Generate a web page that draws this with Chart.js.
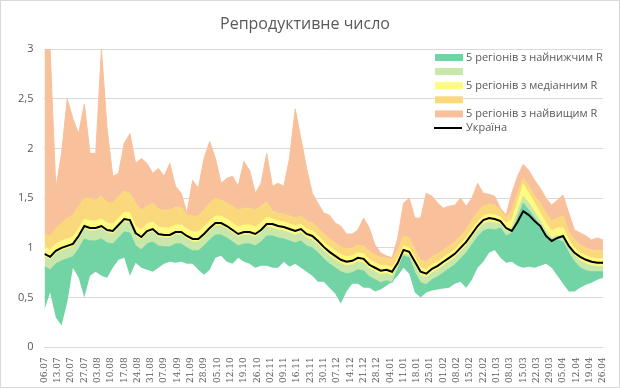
<!DOCTYPE html>
<html>
<head>
<meta charset="utf-8">
<script src="https://cdn.jsdelivr.net/npm/chart.js"></script>
<style>
  body { margin: 0; background: #fff; }
  #wrap { width: 618px; height: 386px; border: 1px solid #d9d9d9; }
</style>
</head>
<body>
<div id="wrap"><canvas id="rChart" width="618" height="386"></canvas></div>
<script>
// weekly tick labels (06.07.2020 - 26.04.2021)
const weekLabels = ['06.07','13.07','20.07','27.07','03.08','10.08','17.08','24.08','31.08','07.09','14.09',
  '21.09','28.09','05.10','12.10','19.10','26.10','02.11','09.11','16.11','23.11','30.11','07.12','14.12',
  '21.12','28.12','04.01','11.01','18.01','25.01','01.02','08.02','15.02','22.02','01.03','08.03','15.03',
  '22.03','29.03','05.04','12.04','19.04','26.04'];

// one reading every 3 days, day 0 = 06.07
const days = Array.from({ length: 99 }, (_, i) => i * 3);

const ukraine = [0.94,0.91,0.97,1.0,1.02,1.04,1.12,1.22,1.2,1.2,
  1.22,1.18,1.17,1.23,1.29,1.28,1.15,1.11,1.17,1.19,
  1.14,1.13,1.13,1.16,1.16,1.12,1.09,1.09,1.14,1.2,
  1.25,1.25,1.22,1.18,1.14,1.16,1.16,1.14,1.18,1.24,
  1.24,1.22,1.21,1.19,1.17,1.19,1.14,1.12,1.07,1.01,
  0.96,0.92,0.88,0.86,0.87,0.9,0.89,0.83,0.8,0.77,
  0.78,0.76,0.85,0.98,0.96,0.86,0.76,0.74,0.79,0.82,
  0.86,0.9,0.94,1.0,1.06,1.14,1.22,1.28,1.3,1.29,
  1.27,1.2,1.17,1.26,1.37,1.33,1.27,1.22,1.12,1.07,
  1.1,1.12,1.02,0.95,0.91,0.88,0.86,0.85,0.85];

const low = [0.38,0.55,0.3,0.22,0.45,0.8,0.7,0.5,0.72,0.76,
  0.72,0.7,0.8,0.88,0.9,0.72,0.85,0.8,0.78,0.76,
  0.8,0.84,0.86,0.85,0.86,0.84,0.84,0.78,0.73,0.78,
  0.9,0.92,0.86,0.84,0.9,0.86,0.84,0.8,0.82,0.82,
  0.8,0.8,0.86,0.81,0.84,0.8,0.76,0.72,0.66,0.66,
  0.6,0.54,0.44,0.56,0.64,0.64,0.6,0.6,0.56,0.58,
  0.62,0.66,0.72,0.8,0.74,0.55,0.5,0.55,0.57,0.58,
  0.59,0.6,0.64,0.66,0.6,0.68,0.8,0.86,0.95,0.98,
  0.9,0.85,0.86,0.82,0.8,0.81,0.8,0.82,0.84,0.8,
  0.72,0.64,0.56,0.56,0.6,0.63,0.65,0.68,0.7];

const greenTop = [0.81,0.78,0.84,0.87,0.89,0.91,0.99,1.09,1.07,1.07,
  1.09,1.05,1.04,1.1,1.16,1.15,1.02,0.98,1.04,1.06,
  1.02,1.01,1.01,1.04,1.04,1.0,0.97,0.97,1.02,1.08,
  1.13,1.13,1.1,1.06,1.02,1.04,1.04,1.02,1.06,1.12,
  1.12,1.1,1.09,1.07,1.05,1.07,1.02,1.0,0.95,0.89,
  0.84,0.8,0.76,0.74,0.75,0.78,0.77,0.71,0.68,0.65,
  0.67,0.65,0.79,0.92,0.9,0.75,0.65,0.63,0.68,0.71,
  0.75,0.79,0.83,0.89,0.95,1.03,1.11,1.17,1.19,1.18,
  1.2,1.12,1.15,1.3,1.45,1.38,1.3,1.22,1.12,1.06,
  1.08,1.06,0.95,0.86,0.8,0.77,0.76,0.76,0.76];

const lightTop = [0.91,0.88,0.94,0.97,0.99,1.01,1.09,1.19,1.17,1.17,
  1.19,1.15,1.14,1.2,1.26,1.25,1.12,1.08,1.14,1.16,
  1.11,1.1,1.1,1.13,1.13,1.09,1.06,1.06,1.11,1.17,
  1.22,1.22,1.19,1.15,1.11,1.13,1.13,1.11,1.15,1.21,
  1.2,1.18,1.17,1.15,1.13,1.15,1.1,1.08,1.03,0.97,
  0.92,0.88,0.84,0.82,0.83,0.86,0.85,0.79,0.76,0.73,
  0.74,0.72,0.81,0.94,0.92,0.82,0.72,0.7,0.75,0.78,
  0.82,0.86,0.9,0.96,1.02,1.1,1.18,1.24,1.26,1.25,
  1.24,1.17,1.2,1.36,1.52,1.45,1.36,1.27,1.17,1.1,
  1.12,1.1,1.0,0.92,0.87,0.84,0.82,0.81,0.81];

const yellowTop = [1.01,0.98,1.04,1.07,1.09,1.11,1.19,1.29,1.27,1.27,
  1.29,1.25,1.24,1.3,1.36,1.35,1.22,1.18,1.24,1.26,
  1.21,1.2,1.2,1.23,1.23,1.19,1.16,1.16,1.21,1.27,
  1.32,1.32,1.29,1.25,1.21,1.23,1.23,1.21,1.25,1.31,
  1.29,1.27,1.26,1.24,1.22,1.24,1.19,1.17,1.12,1.06,
  1.01,0.97,0.93,0.91,0.92,0.95,0.94,0.88,0.85,0.82,
  0.82,0.8,0.89,1.02,1.0,0.9,0.8,0.78,0.83,0.86,
  0.9,0.94,0.98,1.04,1.1,1.18,1.26,1.32,1.34,1.33,
  1.31,1.25,1.28,1.45,1.64,1.55,1.45,1.35,1.25,1.17,
  1.2,1.2,1.08,1.0,0.95,0.92,0.9,0.89,0.89];

const orangeTop = [1.14,1.12,1.2,1.25,1.3,1.33,1.42,1.5,1.5,1.48,
  1.52,1.46,1.45,1.52,1.57,1.55,1.45,1.38,1.42,1.45,
  1.39,1.38,1.38,1.41,1.41,1.33,1.32,1.32,1.38,1.45,
  1.5,1.48,1.45,1.42,1.38,1.4,1.4,1.38,1.42,1.46,
  1.37,1.35,1.34,1.32,1.3,1.32,1.27,1.25,1.2,1.14,
  1.09,1.05,1.01,0.99,1.0,1.03,1.02,0.96,0.93,0.9,
  0.9,0.88,0.98,1.12,1.1,0.98,0.88,0.86,0.91,0.94,
  0.98,1.02,1.06,1.12,1.18,1.28,1.36,1.42,1.44,1.43,
  1.38,1.3,1.38,1.55,1.7,1.62,1.52,1.45,1.35,1.27,
  1.3,1.32,1.16,1.08,1.03,1.0,0.98,0.97,0.97];

const high = [3.0,3.0,1.6,1.95,2.5,2.3,2.15,2.45,1.95,1.95,
  3.0,2.2,1.72,1.75,2.05,2.15,1.85,1.9,1.85,1.75,
  1.8,1.72,1.85,1.62,1.55,1.35,1.68,1.6,1.9,2.07,
  1.9,1.65,1.7,1.72,1.62,1.87,1.78,1.55,1.65,1.95,
  1.62,1.65,1.62,1.9,2.4,2.1,1.8,1.55,1.45,1.35,
  1.33,1.25,1.22,1.14,1.14,1.18,1.3,1.2,1.03,0.95,
  0.92,0.9,1.1,1.45,1.5,1.3,1.3,1.55,1.52,1.45,
  1.4,1.42,1.43,1.5,1.42,1.5,1.65,1.55,1.54,1.52,
  1.4,1.33,1.55,1.72,1.84,1.78,1.68,1.6,1.5,1.43,
  1.48,1.53,1.35,1.18,1.15,1.12,1.08,1.1,1.08];

const GREEN = '#72d3a5';
const LIGHT_GREEN = '#c8e7a9';
const YELLOW = '#fffa80';
const ORANGE = '#fad97c';
const SALMON = '#f8c19c';
const TEXT = '#595959';

function pts(arr) {
    return days.map((d, i) => ({ x: d, y: arr[i] }));
}

function band(arr, color) {
    return { data: pts(arr), fill: '-1', backgroundColor: color, borderColor: color, borderWidth: 1 };
}

const legendItems = [
    { color: GREEN, text: '5 регіонів з найнижчим R' },
    { color: LIGHT_GREEN, text: '' },
    { color: YELLOW, text: '5 регіонів з медіанним R' },
    { color: ORANGE, text: '' },
    { color: SALMON, text: '5 регіонів з найвищим R' },
    { color: '#000', text: 'Україна', line: true }
];

const cornerLegend = {
    id: 'cornerLegend',
    afterDraw(chart) {
        const c = chart.ctx;
        c.save();
        c.font = '11px "Open Sans"';
        c.textBaseline = 'middle';
        legendItems.forEach((item, i) => {
            const y = 56.5 + i * 14.1;
            c.fillStyle = item.color;
            if (item.line) {
                c.fillRect(433, y - 1, 28, 2);
            } else {
                c.fillRect(434, y - 3.5, 28, 7);
            }
            c.fillStyle = TEXT;
            c.fillText(item.text, 465, y);
        });
        c.restore();
    }
};

const ctx = document.getElementById('rChart').getContext('2d');
const chart = new Chart(ctx, {
    type: 'line',
    data: {
        datasets: [
            { data: pts(ukraine), borderColor: '#000', borderWidth: 2, fill: false },
            { data: pts(low), borderWidth: 0, fill: false },
            band(greenTop, GREEN),
            band(lightTop, LIGHT_GREEN),
            band(yellowTop, YELLOW),
            band(orangeTop, ORANGE),
            band(high, SALMON)
        ]
    },
    options: {
        responsive: false,
        animation: false,
        layout: { padding: { left: 6, right: 16, top: 8, bottom: 2 } },
        elements: { point: { radius: 0 }, line: { tension: 0 } },
        plugins: {
            legend: { display: false },
            tooltip: { enabled: false },
            title: {
                display: true,
                text: 'Репродуктивне число',
                color: TEXT,
                font: { family: 'Open Sans', size: 16, weight: 'normal' },
                padding: { top: 6, bottom: 15 }
            }
        },
        scales: {
            x: {
                type: 'linear',
                min: 0,
                max: 294,
                grid: { display: false },
                border: { display: false },
                ticks: {
                    stepSize: 7,
                    autoSkip: false,
                    maxRotation: 90,
                    minRotation: 90,
                    color: TEXT,
                    padding: 2,
                    font: { family: 'DejaVu Serif', size: 9 },
                    callback: (v) => weekLabels[Math.round(v / 7)]
                }
            },
            y: {
                min: 0,
                max: 3,
                grid: { color: '#d9d9d9', drawTicks: false },
                border: { display: false },
                ticks: {
                    stepSize: 0.5,
                    color: TEXT,
                    padding: 11,
                    font: { family: 'Open Sans', size: 11 },
                    callback: (v) => String(v).replace('.', ',')
                }
            }
        }
    },
    plugins: [cornerLegend]
});
</script>
</body>
</html>
